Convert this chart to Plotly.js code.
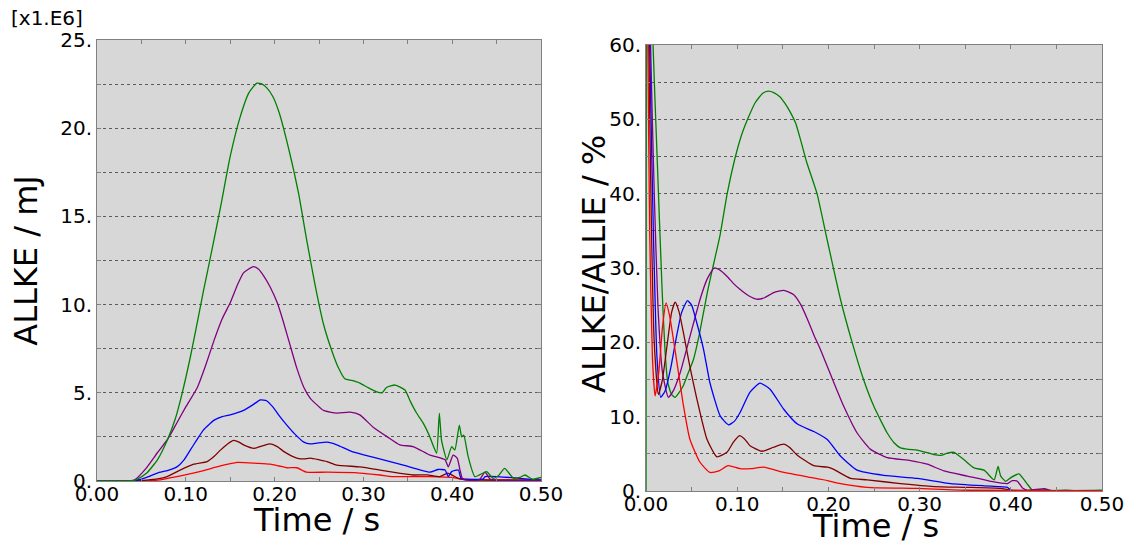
<!DOCTYPE html>
<html>
<head>
<meta charset="utf-8">
<script src="https://cdn.plot.ly/plotly-3.0.1.min.js"></script>
<style>html,body{margin:0;padding:0;background:#fff;}#chart{width:1136px;height:544px;}</style>
</head>
<body>
<div id="chart"></div>
<script>
// ---------- Left panel: ALLKE (x1.E6 mJ) ----------
const greenKE_t = [0,0.02,0.04,0.045,0.056,0.068,0.079,0.088,0.096,0.105,0.113,0.120,0.127,0.139,0.150,0.161,0.171,0.180,0.186,0.191,0.198,0.205,0.216,0.227,0.236,0.246,0.255,0.265,0.272,0.279,0.287,0.296,0.305,0.315,0.321,0.326,0.3356,0.3468,0.353,0.360,0.3675,0.374,0.379,0.3825,0.3855,0.388,0.394,0.3994,0.403,0.408,0.4107,0.413,0.418,0.4256,0.4388,0.446,0.452,0.459,0.469,0.476,0.482,0.49,0.5];
const greenKE_v = [0,0,0.02,0.1,0.45,1.2,2.3,3.5,5.0,7.0,9.0,10.8,12.5,15.5,18.4,20.6,22.0,22.55,22.5,22.3,21.8,20.9,18.8,16.3,13.7,11.0,8.9,7.3,6.4,5.8,5.7,5.55,5.3,5.05,5.0,5.3,5.44,5.16,4.5,3.84,3.27,2.6,1.95,1.57,3.84,2.3,1.2,1.95,1.76,3.17,2.5,2.6,1.38,0.25,0.53,0.15,0.3,0.72,0.15,0.2,0.34,0.1,0.2];

const purpleKE_t = [0,0.03,0.042,0.055,0.068,0.080,0.090,0.100,0.113,0.122,0.132,0.141,0.150,0.158,0.165,0.176,0.182,0.188,0.195,0.203,0.210,0.218,0.225,0.233,0.240,0.248,0.255,0.270,0.285,0.296,0.311,0.327,0.341,0.356,0.375,0.392,0.3956,0.401,0.4057,0.4088,0.412,0.430,0.437,0.443,0.5];
const purpleKE_v = [0,0,0.05,0.7,1.6,2.4,3.3,4.2,5.3,6.5,8.0,9.2,10.1,11.1,11.8,12.15,12.0,11.6,11.0,10.1,9.0,7.6,6.4,5.3,4.7,4.3,4.0,3.85,3.9,3.75,3.05,2.5,2.05,1.95,1.47,1.2,0.8,1.47,1.28,0.62,0.1,0.05,0.5,0.1,0.05];

const blueKE_t = [0,0.04,0.050,0.058,0.068,0.080,0.090,0.098,0.105,0.112,0.120,0.132,0.141,0.150,0.165,0.175,0.184,0.191,0.198,0.206,0.214,0.222,0.233,0.240,0.248,0.259,0.270,0.288,0.315,0.345,0.375,0.384,0.392,0.3956,0.3994,0.407,0.41,0.435,0.437,0.5];
const blueKE_v = [0,0,0.1,0.25,0.45,0.6,0.8,1.2,1.75,2.3,2.9,3.45,3.65,3.75,4.0,4.3,4.6,4.55,4.2,3.65,3.15,2.7,2.2,2.1,2.15,2.2,2.05,1.65,1.3,0.9,0.5,0.65,0.62,0.25,0.53,0.62,0.15,0.12,0.25,0.05];

const darkredKE_t = [0,0.045,0.056,0.068,0.079,0.093,0.109,0.124,0.132,0.139,0.147,0.154,0.160,0.165,0.177,0.187,0.195,0.203,0.211,0.225,0.233,0.240,0.259,0.270,0.296,0.3187,0.333,0.356,0.372,0.386,0.395,0.401,0.41,0.5];
const darkredKE_v = [0,0,0.05,0.12,0.25,0.6,0.95,1.1,1.4,1.75,2.1,2.3,2.2,2.05,1.85,2.0,2.1,1.95,1.65,1.3,1.25,1.3,1.1,0.9,0.8,0.62,0.5,0.34,0.35,0.25,0.45,0.3,0.1,0.05];

const redKE_t = [0,0.05,0.068,0.090,0.113,0.135,0.158,0.180,0.195,0.205,0.214,0.225,0.236,0.259,0.296,0.3187,0.333,0.375,0.40,0.41,0.5];
const redKE_v = [0,0,0.05,0.25,0.5,0.8,1.05,1.0,0.95,0.85,0.75,0.75,0.5,0.5,0.45,0.34,0.25,0.25,0.2,0.1,0.05];

// ---------- Right panel: ALLKE/ALLIE (%) ----------
const greenR_t = [0,0.0005,0.0077,0.012,0.0175,0.021,0.024,0.028,0.0319,0.036,0.041,0.046,0.052,0.058,0.063,0.068,0.072,0.0813,0.089,0.097,0.1045,0.1124,0.120,0.128,0.134,0.140,0.147,0.152,0.158,0.164,0.170,0.176,0.1875,0.1986,0.2132,0.226,0.2388,0.2498,0.2645,0.272,0.279,0.288,0.2975,0.3157,0.3234,0.3304,0.3377,0.3487,0.3597,0.3707,0.3817,0.386,0.389,0.3945,0.40,0.409,0.4128,0.4183,0.4238,0.43,0.44,0.445,0.46,0.47,0.5];
const greenR_v = [0,100,60,45.5,27.4,18.5,14.5,13.0,12.6,13.2,14.2,15.8,17.7,20.8,24.0,27.2,29.4,34.5,40.0,44.5,47.8,50.3,52.3,53.5,53.8,53.6,53.0,52.2,51.0,49.5,47.0,44.3,40.0,33.8,25.8,20.0,14.9,11.4,7.8,6.5,5.8,5.6,5.5,4.9,4.8,5.1,5.2,4.2,3.1,2.8,1.5,3.3,2.0,1.3,1.8,2.3,1.8,0.9,0.1,0.05,0.2,0.05,0.1,0.05,0.1];

const purpleR_t = [0,0.005,0.009,0.013,0.018,0.0245,0.030,0.0374,0.0484,0.0593,0.067,0.0747,0.080,0.0887,0.096,0.1033,0.112,0.1216,0.130,0.140,0.151,0.162,0.170,0.177,0.184,0.191,0.2049,0.2168,0.2315,0.2462,0.2645,0.290,0.3084,0.3267,0.3524,0.378,0.3963,0.4015,0.4073,0.4128,0.418,0.437,0.443,0.5];
const purpleR_v = [100,60,40,25,16,12.6,13.5,15.9,20.9,25.8,28.5,30.0,29.8,28.9,27.9,27.1,26.3,25.8,26.0,26.7,27.0,26.4,25.0,23.1,21.0,19.1,14.9,11.4,7.8,5.6,4.5,4.1,3.6,2.7,2.0,1.3,1.0,1.4,1.3,0.4,0.1,0.3,0.05,0.05];

const blueR_t = [0,0.004,0.008,0.012,0.0161,0.021,0.027,0.033,0.039,0.0454,0.050,0.0557,0.063,0.070,0.0813,0.0905,0.097,0.1033,0.114,0.125,0.136,0.151,0.166,0.184,0.199,0.2132,0.2315,0.2608,0.2975,0.334,0.3707,0.386,0.3963,0.400,0.41,0.5];
const blueR_v = [100,60,35,18,12.6,13.5,16.5,20.5,24.0,25.6,25.0,22.6,19.1,14.6,10.1,8.9,9.4,10.6,13.3,14.5,13.7,11.0,9.0,8.0,6.9,4.7,2.8,2.1,1.7,1.0,0.7,0.6,0.5,0.1,0.05,0.05];

const darkredR_t = [0,0.003,0.006,0.009,0.0135,0.018,0.024,0.028,0.0319,0.036,0.041,0.048,0.0557,0.0667,0.0777,0.0887,0.0960,0.1026,0.108,0.114,0.127,0.140,0.151,0.158,0.166,0.184,0.199,0.2058,0.2242,0.2425,0.279,0.3157,0.3524,0.389,0.40,0.5];
const darkredR_v = [100,60,35,20,13.0,15.0,20.5,24.0,25.4,24.2,21.3,16.8,12.4,7.0,4.6,5.2,6.6,7.45,7.0,6.1,5.35,5.9,6.3,5.8,4.8,3.4,3.2,2.9,1.7,1.5,1.0,0.6,0.5,0.35,0.1,0.05];

const redR_t = [0,0.002,0.004,0.007,0.0099,0.014,0.018,0.022,0.026,0.030,0.0355,0.041,0.048,0.059,0.070,0.080,0.090,0.103,0.115,0.129,0.151,0.169,0.177,0.199,0.2132,0.2425,0.2975,0.3524,0.5];
const redR_v = [100,60,35,18,12.8,16.0,22.0,25.3,23.5,20.4,16.0,11.5,7.0,3.9,2.5,2.7,3.4,3.0,3.0,3.2,2.5,2.1,1.9,1.4,1.0,0.5,0.35,0.1,0.05];

// ---------- Tick labels and titles ----------
const xTickVals = [0,0.05,0.10,0.15,0.20,0.25,0.30,0.35,0.40,0.45,0.50];
const xTickText = ["0.00","","0.10","","0.20","","0.30","","0.40","","0.50"];
const yLeftTickVals = [0,2.5,5,7.5,10,12.5,15,17.5,20,22.5,25];
const yLeftTickText = ["0.","","5.","","10.","","15.","","20.","","25."];
const yRightTickVals = [0,5,10,15,20,25,30,35,40,45,50,55,60];
const yRightTickText = ["0.","","10.","","20.","","30.","","40.","","50.","","60."];
const xTitle = "Time / s";
const yLeftTitle = "ALLKE / mJ";
const yRightTitle = "ALLKE/ALLIE / %";
const scaleLabel = "[x1.E6]";

const colors = {green:"#008000", purple:"#800080", blue:"#0000ff", darkred:"#800000", red:"#ff0000"};

function tr(x, y, color, xa, ya, name){
  return {x:x, y:y, type:"scatter", mode:"lines", name:name,
          line:{color:color, width:1.3, shape:"spline", smoothing:0.5},
          xaxis:xa, yaxis:ya, cliponaxis:true, hoverinfo:"x+y"};
}

const data = [
  tr(redKE_t, redKE_v, colors.red, "x", "y", "red"),
  tr(darkredKE_t, darkredKE_v, colors.darkred, "x", "y", "darkred"),
  tr(blueKE_t, blueKE_v, colors.blue, "x", "y", "blue"),
  tr(purpleKE_t, purpleKE_v, colors.purple, "x", "y", "purple"),
  tr(greenKE_t, greenKE_v, colors.green, "x", "y", "green"),
  tr(greenR_t, greenR_v, colors.green, "x2", "y2", "green"),
  tr(purpleR_t, purpleR_v, colors.purple, "x2", "y2", "purple"),
  tr(blueR_t, blueR_v, colors.blue, "x2", "y2", "blue"),
  tr(darkredR_t, darkredR_v, colors.darkred, "x2", "y2", "darkred"),
  tr(redR_t, redR_v, colors.red, "x2", "y2", "red")
];

const tickFont = {family:"DejaVu Sans", size:20, color:"#000"};
const titleFont = {family:"DejaVu Sans", size:32, color:"#000"};
const frameColor = "#808080";

function xAxis(domain, anchor){
  return {domain:domain, anchor:anchor, range:[0,0.5], tickmode:"array",
    tickvals:xTickVals, ticktext:xTickText, ticks:"inside", ticklen:4, tickcolor:frameColor,
    showline:true, linecolor:frameColor, linewidth:1, mirror:"ticks",
    showgrid:false, zeroline:false, tickfont:tickFont, ticklabelstandoff:-5,
    automargin:false, fixedrange:true};
}
function yAxis(domain, anchor, range, vals, text, title, standoff){
  const ax = {domain:domain, anchor:anchor, range:range, tickmode:"array",
    tickvals:vals, ticktext:text, ticks:"inside", ticklen:4, tickcolor:frameColor,
    showline:true, linecolor:frameColor, linewidth:1, mirror:"ticks",
    showgrid:true, gridcolor:"#5a5a5a", griddash:"3px,3px", gridwidth:1,
    zeroline:false, tickfont:tickFont, automargin:false, fixedrange:true};
  if (title) ax.title = {text:title, font:titleFont, standoff:standoff};
  return ax;
}

// plot area: x 97..1102 px, y 40..491 px
const px = v => (v - 97) / 1005;
const py = v => (491 - v) / 451;

function ann(text, x, y, angle, size){
  return {text:text, xref:"paper", yref:"paper", x:x, y:y, xanchor:"center", yanchor:"middle",
          textangle:angle, showarrow:false, font:{family:"DejaVu Sans", size:size, color:"#000"}};
}

const layout = {
  width:1136, height:544,
  margin:{l:97, r:34, t:40, b:53},
  paper_bgcolor:"#ffffff",
  plot_bgcolor:"#d7d7d7",
  showlegend:false,
  xaxis: xAxis([0, 0.4418], "y"),
  yaxis: yAxis([0.0222, 1], "x", [0,25], yLeftTickVals, yLeftTickText, yLeftTitle, 12),
  xaxis2: xAxis([0.5463, 1], "y2"),
  yaxis2: yAxis([0, 0.9889], "x2", [0,60], yRightTickVals, yRightTickText, null, 0),
  annotations:[
    {text:scaleLabel, xref:"paper", yref:"paper", x:px(9), y:py(18),
     xanchor:"left", yanchor:"middle", showarrow:false,
     font:{family:"DejaVu Sans", size:20, color:"#000"}},
    ann(xTitle, px(316), py(520), 0, 32),
    ann(xTitle, px(875), py(526), 0, 32),
    ann(yRightTitle, px(594), py(264), -90, 32)
  ]
};

Plotly.newPlot("chart", data, layout, {staticPlot:true, displayModeBar:false});
</script>
</body>
</html>
